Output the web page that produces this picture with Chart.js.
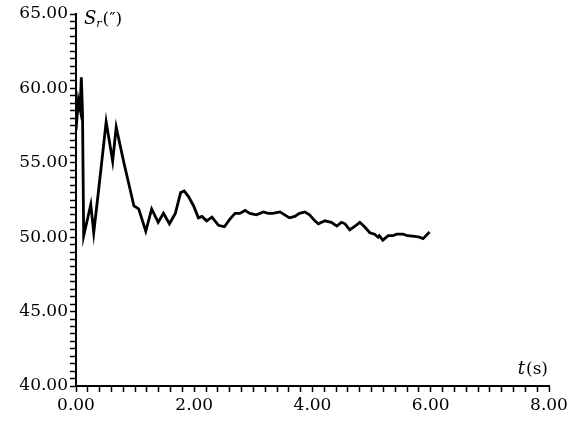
<!DOCTYPE html>
<html><head><meta charset="utf-8">
<script src="https://cdn.jsdelivr.net/npm/chart.js@4"></script>
<style>html,body{margin:0;padding:0;background:#fff}#wrap{width:573px;height:421px;position:relative}</style>
</head><body><div id="wrap"><canvas id="c"></canvas></div>
<script>
const timeS = [0.00,0.04,0.07,0.09,0.11,0.13,0.25,0.30,0.42,0.51,0.62,0.68,0.81,0.98,1.06,1.18,1.28,1.39,1.48,1.58,1.68,1.77,1.83,1.90,1.99,2.07,2.13,2.21,2.30,2.41,2.51,2.60,2.69,2.77,2.86,2.94,3.05,3.17,3.25,3.33,3.45,3.53,3.61,3.70,3.78,3.87,3.95,4.04,4.10,4.21,4.32,4.41,4.49,4.55,4.63,4.72,4.80,4.88,4.97,5.05,5.11,5.13,5.19,5.28,5.36,5.42,5.53,5.61,5.73,5.81,5.87,5.98];
const settlementSr = [57.2,59.2,58.6,60.75,58.4,50.1,52.2,50.3,54.5,57.75,55.1,57.4,55.0,52.1,51.9,50.4,51.9,51.0,51.6,50.9,51.6,53.0,53.1,52.75,52.1,51.3,51.4,51.1,51.35,50.8,50.7,51.2,51.6,51.6,51.8,51.6,51.5,51.7,51.6,51.6,51.7,51.5,51.3,51.4,51.6,51.7,51.5,51.1,50.9,51.1,51.0,50.75,51.0,50.9,50.5,50.75,51.0,50.7,50.3,50.2,50.0,50.1,49.8,50.1,50.1,50.2,50.2,50.1,50.05,50.0,49.9,50.35];
const xTickValues = [0,2,4,6,8];
const xTickLabels = ['0.00','2.00','4.00','6.00','8.00'];
const yTickValues = [40,45,50,55,60,65];
const yTickLabels = ['40.00','45.00','50.00','55.00','60.00','65.00'];

function labelFor(values, labels, v){
  for (let i=0;i<values.length;i++){ if (Math.abs(values[i]-v)<1e-6) return labels[i]; }
  return '';
}
const FONT = {family:'"DejaVu Serif", "Liberation Serif", serif', size:17};

const titlesPlugin = {
  id:'titles',
  afterDraw(chart){
    const ctx = chart.ctx, a = chart.chartArea;
    ctx.save();
    ctx.fillStyle = '#000';
    ctx.textBaseline = 'alphabetic';
    let x = a.left + 8, y = a.top + 10;
    ctx.font = 'italic 18px "DejaVu Serif", "Liberation Serif", serif';
    ctx.fillText('S', x, y); x += ctx.measureText('S').width;
    ctx.font = 'italic 11px "DejaVu Serif", "Liberation Serif", serif';
    ctx.fillText('r', x, y + 3); x += ctx.measureText('r').width + 1;
    ctx.font = '17px "DejaVu Serif", "Liberation Serif", serif';
    ctx.fillText('(\u2033)', x, y);
    ctx.font = '17px "DejaVu Serif", "Liberation Serif", serif';
    const rest = '(s)';
    const rw = ctx.measureText(rest).width;
    const xr = a.right - 1;
    const yb = a.bottom - 12;
    ctx.fillText(rest, xr - rw, yb);
    ctx.font = 'italic 18px "DejaVu Serif", "Liberation Serif", serif';
    const tw = ctx.measureText('t').width;
    ctx.fillText('t', xr - rw - tw - 1, yb);
    ctx.restore();
  }
};

new Chart(document.getElementById('c'), {
  type:'line',
  data:{ datasets:[{
    data: timeS.map((t,i)=>({x:t, y:settlementSr[i]})),
    borderColor:'#000', borderWidth:2.8, pointRadius:0, tension:0, fill:false
  }]},
  options:{
    responsive:true, maintainAspectRatio:false, animation:false,
    layout:{padding:{top:14,right:24,left:0,bottom:0}},
    plugins:{legend:{display:false}, tooltip:{enabled:false}},
    scales:{
      x:{
        type:'linear', min:0, max:8,
        border:{display:true,color:'#000',width:2},
        grid:{drawOnChartArea:false, drawTicks:true, tickLength:6, tickColor:'#000', tickWidth:1.5},
        ticks:{stepSize:0.2, autoSkip:false, maxRotation:0, color:'#000', font:FONT, padding:3, includeBounds:true,
          callback:(v)=>labelFor(xTickValues,xTickLabels,v)},
        afterBuildTicks(s){ const t=[]; for(let i=0;i<=40;i++) t.push({value:i*0.2}); s.ticks=t; },
        afterFit(s){ s.height = 35; s.paddingLeft=0; s.paddingRight=0; }
      },
      y:{
        type:'linear', min:40, max:65,
        border:{display:true,color:'#000',width:2},
        grid:{drawOnChartArea:false, drawTicks:true, tickLength:6, tickColor:'#000', tickWidth:1.5},
        ticks:{stepSize:0.5, autoSkip:false, color:'#000', font:FONT, padding:2,
          callback:(v)=>labelFor(yTickValues,yTickLabels,v)},
        afterBuildTicks(s){ const t=[]; for(let i=0;i<=50;i++) t.push({value:40+i*0.5}); s.ticks=t; },
        afterFit(s){ s.width = 76; s.paddingTop=0; s.paddingBottom=0; }
      }
    }
  },
  plugins:[titlesPlugin]
});
</script>
</body></html>
